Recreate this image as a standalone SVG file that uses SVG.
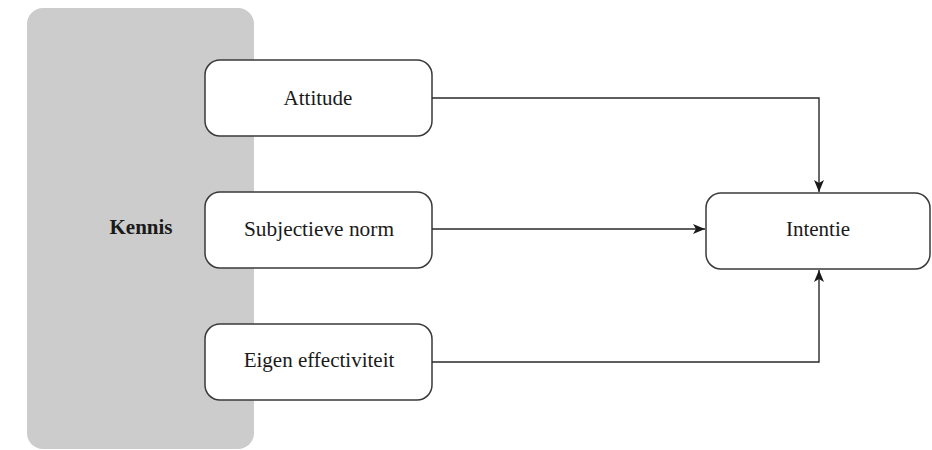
<svg xmlns="http://www.w3.org/2000/svg" width="932" height="450" viewBox="0 0 932 450">
  <style>
    .box { fill: #ffffff; stroke: #3a3a3a; stroke-width: 1.5; }
    .lbl { font-family: "Liberation Serif", "DejaVu Serif", serif; font-size: 21px; fill: #1a1a1a; text-anchor: middle; }
    .edge { fill: none; stroke: #2a2a2a; stroke-width: 1.4; }
  </style>
  <defs>
    <marker id="arrow" viewBox="0 0 12 10" refX="12" refY="5" markerWidth="13" markerHeight="10" markerUnits="userSpaceOnUse" orient="auto">
      <path d="M0,0 L12,5 L0,10 L3,5 Z" fill="#1a1a1a"/>
    </marker>
  </defs>
  <rect width="932" height="450" fill="#ffffff"/>

  <g id="kennis">
    <rect x="27" y="8" width="227" height="441" rx="16" ry="16" fill="#cccccc"/>
    <text class="lbl" x="141" y="234" font-weight="bold">Kennis</text>
  </g>

  <g id="attitude">
    <rect class="box" x="205" y="60" width="227" height="76" rx="15" ry="15"/>
    <text class="lbl" x="318" y="105">Attitude</text>
  </g>

  <g id="subjectieve-norm">
    <rect class="box" x="205" y="192" width="227" height="76" rx="15" ry="15"/>
    <text class="lbl" x="319" y="236" textLength="150" lengthAdjust="spacingAndGlyphs">Subjectieve norm</text>
  </g>

  <g id="eigen-effectiviteit">
    <rect class="box" x="205" y="324" width="227" height="76" rx="15" ry="15"/>
    <text class="lbl" x="319" y="367">Eigen effectiviteit</text>
  </g>

  <g id="intentie">
    <rect class="box" x="706" y="193" width="224" height="76" rx="15" ry="15"/>
    <text class="lbl" x="818" y="236">Intentie</text>
  </g>

  <g id="connectors">
    <path class="edge" d="M432,98 H819 V192" marker-end="url(#arrow)"/>
    <path class="edge" d="M432,229 H705" marker-end="url(#arrow)"/>
    <path class="edge" d="M432,362 H819 V270" marker-end="url(#arrow)"/>
  </g>
</svg>
